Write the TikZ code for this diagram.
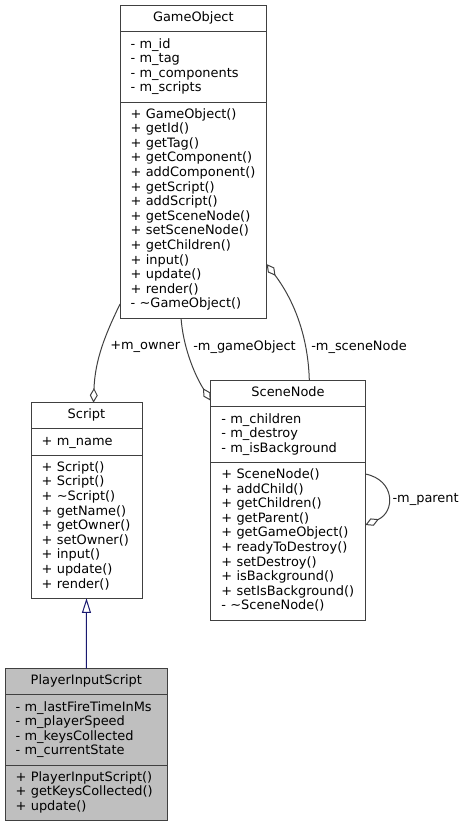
\documentclass[tikz,border=0pt]{standalone}
\usepackage{fontspec}
\setmainfont{DejaVu Sans}
\usepackage{tikz}
\usetikzlibrary{shapes.multipart, arrows.meta, calc}

\definecolor{edgegray}{HTML}{404040}
\definecolor{inheritblue}{HTML}{191970}
\definecolor{currentfill}{HTML}{BFBFBF}

\begin{document}
\begin{tikzpicture}[x=0.75pt, y=-0.75pt,
    every node/.style={font=\fontsize{9.7pt}{10.95pt}\selectfont},
    classbox/.style={rectangle split, rectangle split parts=3, draw=edgegray,
      fill=white, line width=0.75pt, text width=#1, align=left,
      inner xsep=8pt, inner ysep=4pt, outer sep=0pt, anchor=north west},
    aggregation/.style={draw=edgegray, line width=0.75pt,
      -{Diamond[open, length=11pt, width=6pt]}},
    inheritance/.style={draw=inheritblue, line width=0.75pt,
      -{Triangle[open, length=11pt, width=6.75pt]}},
    rolelabel/.style={anchor=west, inner sep=0pt}]

    \useasboundingbox (0,0) rectangle (467,824);

    \node[classbox=94pt] (gameobject) at (120,5.7) {\strut\hspace*{\fill}GameObject\hspace*{\fill}\strut
      \nodepart{two}\strut - m\_id\\ - m\_tag\\ - m\_components\\ - m\_scripts\strut
      \nodepart{three}\strut + GameObject()\\ + getId()\\ + getTag()\\ + getComponent()\\
      + addComponent()\\ + getScript()\\ + addScript()\\ + getSceneNode()\\
      + setSceneNode()\\ + getChildren()\\ + input()\\ + update()\\ + render()\\
      - \textasciitilde GameObject()\strut};

    \node[classbox=67.25pt] (script) at (31,402.7) {\strut\hspace*{\fill}Script\hspace*{\fill}\strut
      \nodepart{two}\strut + m\_name\strut
      \nodepart{three}\strut + Script()\\ + Script()\\ + \textasciitilde Script()\\
      + getName()\\ + getOwner()\\ + setOwner()\\ + input()\\ + update()\\ + render()\strut};

    \node[classbox=100pt] (scenenode) at (210.7,380.7) {\strut\hspace*{\fill}SceneNode\hspace*{\fill}\strut
      \nodepart{two}\strut - m\_children\\ - m\_destroy\\ - m\_isBackground\strut
      \nodepart{three}\strut + SceneNode()\\ + addChild()\\ + getChildren()\\
      + getParent()\\ + getGameObject()\\ + readyToDestroy()\\ + setDestroy()\\
      + isBackground()\\ + setIsBackground()\\ - \textasciitilde SceneNode()\strut};

    \node[classbox=106pt, fill=currentfill] (playerinput) at (5,668.7) {\strut\hspace*{\fill}PlayerInputScript\hspace*{\fill}\strut
      \nodepart{two}\strut - m\_lastFireTimeInMs\\ - m\_playerSpeed\\ - m\_keysCollected\\
      - m\_currentState\strut
      \nodepart{three}\strut + PlayerInputScript()\\ + getKeysCollected()\\ + update()\strut};

    % relations
    \draw[inheritance] (playerinput.north) -- (script.south);
    \draw[aggregation] ($(gameobject.south west)+(0,-14)$)
      .. controls (105,335) and (95,360) .. ($(script.north)+(7,0)$);
    \draw[aggregation] ($(gameobject.south)+(-12.3,0)$)
      .. controls (183,345) and (193,372) .. ($(scenenode.north west)+(0,20)$);
    \draw[aggregation] ($(scenenode.north)+(21.3,0)$)
      .. controls (308,330) and (290,295) .. ($(gameobject.south east)+(0,-54)$);
    \draw[aggregation] ($(scenenode.north east)+(0,93.3)$)
      .. controls +(30,6) and +(30,-13) .. ($(scenenode.north east)+(0,144.3)$);

    \node[rolelabel] (ownerlabel) at (110,347) {+m\_owner};
    \node[rolelabel] (gameobjectlabel) at (193,347) {-m\_gameObject};
    \node[rolelabel] (scenenodelabel) at (311,347) {-m\_sceneNode};
    \node[rolelabel] (parentlabel) at (392.3,499) {-m\_parent};
  \end{tikzpicture}
\end{document}
